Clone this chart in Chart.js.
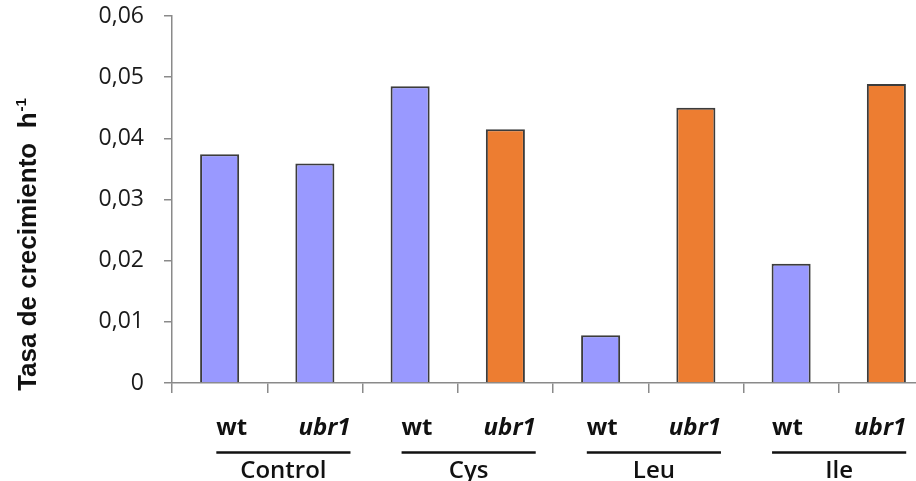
<!DOCTYPE html>
<html>
<head>
<meta charset="utf-8">
<script src="https://cdn.jsdelivr.net/npm/chart.js@4.4.0/dist/chart.umd.min.js"></script>
<style>
    html, body { margin: 0; padding: 0; background: #fff; overflow: hidden; }
    #wrap { width: 940px; height: 481px; }
</style>
</head>
<body>
<div id="wrap"><canvas id="chart" width="940" height="481"></canvas></div>
<script>
// Data
const strains = ['wt', 'ubr1', 'wt', 'ubr1', 'wt', 'ubr1', 'wt', 'ubr1'];
const groups = ['Control', 'Cys', 'Leu', 'Ile'];
const growthRate = [0.0374, 0.0359, 0.0485, 0.0415, 0.0078, 0.0450, 0.0195, 0.0489];
const yTicks = [0, 0.01, 0.02, 0.03, 0.04, 0.05, 0.06];

// Styles
const BLUE = '#9999FF';
const ORANGE = '#ED7D31';
const barColors = [BLUE, BLUE, BLUE, ORANGE, BLUE, ORANGE, BLUE, ORANGE];
const AXIS = '#8a8a8a';

// Draws the two-row category labels and the y title with superscript
const labelPlugin = {
    id: 'labelPlugin',
    afterDraw(chart) {
        const ctx = chart.ctx;
        const x = chart.scales.x;
        const left = chart.chartArea.left;
        const pos = i => left + 13.5 + 0.9724 * (x.getPixelForValue(i) - left);

        ctx.save();
        ctx.fillStyle = '#111';
        ctx.textAlign = 'center';
        ctx.textBaseline = 'alphabetic';
        const boldFont = 'bold 24px "Open Sans"';
        const italFont = 'italic bold 24px "Open Sans"';
        strains.forEach((s, i) => {
            ctx.font = s === 'wt' ? boldFont : italFont;
            ctx.fillText(s, pos(i), 435);
        });

        groups.forEach((g, k) => {
            const a = 2 * k, b = 2 * k + 1;
            ctx.font = boldFont;
            const x0 = pos(a) - ctx.measureText(strains[a]).width / 2;
            ctx.font = italFont;
            const x1 = pos(b) + ctx.measureText(strains[b]).width / 2;
            ctx.strokeStyle = '#111';
            ctx.lineWidth = 2.5;
            ctx.beginPath();
            ctx.moveTo(x0, 452.5);
            ctx.lineTo(x1, 452.5);
            ctx.stroke();
            ctx.font = '600 24px "Open Sans"';
            ctx.fillText(g, (x0 + x1) / 2, 478);
        });

        // y axis title
        ctx.translate(36, 245);
        ctx.rotate(-Math.PI / 2);
        const main = 'Tasa de crecimiento  h';
        ctx.font = 'bold 15px "Liberation Sans"';
        const supW = ctx.measureText('-1').width;
        ctx.font = 'bold 26px "Liberation Sans"';
        const mainW = ctx.measureText(main).width;
        const start = -(mainW + supW) / 2;
        ctx.textAlign = 'left';
        ctx.fillText(main, start, 0);
        ctx.font = 'bold 15px "Liberation Sans"';
        ctx.fillText('-1', start + mainW + 1, -10);
        ctx.restore();
    }
};

new Chart(document.getElementById('chart'), {
    type: 'bar',
    data: {
        labels: strains,
        datasets: [{
            data: growthRate,
            backgroundColor: barColors,
            borderColor: '#3c3c3c',
            borderWidth: 2,
            borderSkipped: 'bottom',
            barPercentage: 0.41,
            categoryPercentage: 1
        }]
    },
    options: {
        responsive: false,
        animation: false,
        devicePixelRatio: 1,
        layout: { padding: { top: 0, right: 6, left: 0, bottom: 0 } },
        plugins: {
            legend: { display: false },
            tooltip: { enabled: false }
        },
        scales: {
            x: {
                afterFit: s => { s.height = 98; },
                grid: { offset: true, drawOnChartArea: false, tickLength: 10, color: AXIS, lineWidth: 1.5 },
                border: { color: AXIS, width: 1.5 },
                ticks: { display: false }
            },
            y: {
                min: 0,
                max: 0.06,
                afterFit: s => { s.width = 172; s.paddingTop = 16; },
                afterBuildTicks: s => { s.ticks = yTicks.map(v => ({ value: v })); },
                grid: { drawOnChartArea: false, tickLength: 8, color: AXIS, lineWidth: 1.5 },
                border: { color: AXIS, width: 1.5 },
                ticks: {
                    padding: 20,
                    color: '#1a1a1a',
                    font: { family: 'Open Sans', size: 23 },
                    callback: v => v === 0 ? '0' : v.toFixed(2).replace('.', ',')
                }
            }
        }
    },
    plugins: [labelPlugin]
});
</script>
</body>
</html>
